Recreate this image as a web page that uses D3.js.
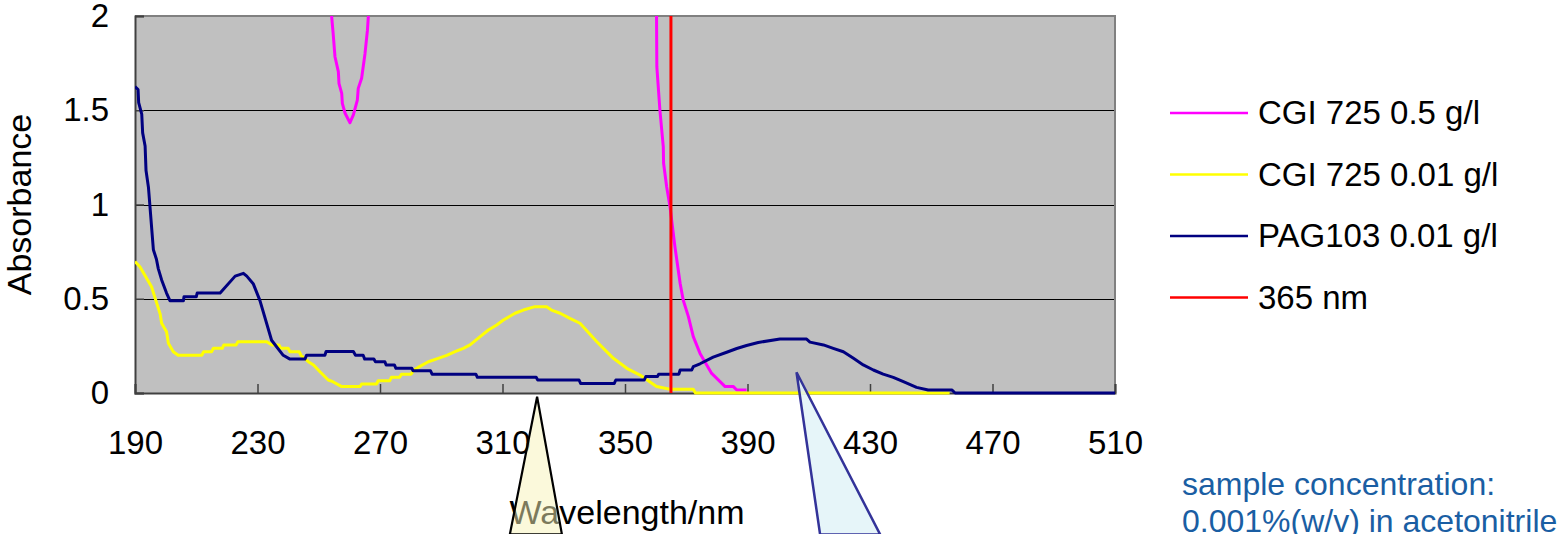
<!DOCTYPE html>
<html>
<head>
<meta charset="utf-8">
<script src="https://cdn.jsdelivr.net/npm/d3@7"></script>
<style>
  html, body { margin: 0; padding: 0; background: #fff; }
  svg { display: block; font-family: "Liberation Sans", Arial, sans-serif; }
</style>
</head>
<body>
<svg id="chart" width="1558" height="534"></svg>
<script>
// ---- Data ----
const xTicks = [190, 230, 270, 310, 350, 390, 430, 470, 510];
const yTicks = [0, 0.5, 1, 1.5, 2];
const xTitle = "Wavelength/nm";
const yTitle = "Absorbance";
const seriesNames = ["CGI 725 0.5 g/l", "CGI 725 0.01 g/l", "PAG103 0.01 g/l", "365 nm"];
const seriesColors = ["#ff00ff", "#ffff00", "#000080", "#ff0000"];
const markerWavelength = 365;
const note = ["sample concentration:", "0.001%(w/v) in acetonitrile"];

// CGI 725 0.5 g/l (goes off scale above 2 between ~266 and ~360 nm)
const cgiHighWl = [252, 254.2, 254.7, 255.3, 256.4, 256.6, 257.5, 257.7, 258.6, 260.2, 261.3, 262.6, 262.9, 264.0, 265.1, 265.9, 266.2, 267.5,
                   310,
                   359, 360.3, 360.4, 361.4, 362.5, 362.6, 363.6, 364.7, 366.3, 368.0, 369.0, 370.7, 372.3, 374.5, 378.3, 382.7, 385.4, 386.5, 389.7];
const cgiHighAbs = [2.4, 2.0, 1.908, 1.784, 1.705, 1.643, 1.59, 1.537, 1.484, 1.434, 1.475, 1.554, 1.616, 1.67, 1.80, 1.925, 2.0, 2.4,
                    null,
                    2.4, 2.0, 1.73, 1.50, 1.307, 1.219, 1.094, 0.988, 0.776, 0.582, 0.493, 0.405, 0.299, 0.21, 0.104, 0.034, 0.034, 0.016, 0.016];

// CGI 725 0.01 g/l
const cgiLowWl = [190, 191.6, 195.4, 198.2, 198.7, 200.3, 200.9, 202.5, 204.1, 211.8, 212.4, 215.0, 215.6, 218.5, 219.0, 223.0, 223.6, 233.0,
                  234.7, 237.0, 237.6, 240.0, 240.6, 243.6, 244.2, 246.6, 248.3, 250.4, 253.1, 254.6, 257.5, 263.5, 264.0, 268.9, 269.4,
                  273.2, 273.7, 276.4, 277.0, 280.2, 280.8, 282.9, 285.8, 289.0, 291.8, 294.5, 297.2, 299.4, 302.7, 305.4, 308.1, 310.3,
                  314.1, 316.8, 320.6, 324.4, 326.0, 328.8, 332.0, 335.3, 340.8, 346.2, 350.6, 354.9, 360.3, 364.7, 372.3, 373.0, 456.0];
const cgiLowAbs = [0.697, 0.67, 0.564, 0.42, 0.37, 0.325, 0.264, 0.219, 0.20, 0.20, 0.219, 0.219, 0.237, 0.237, 0.255, 0.255, 0.272, 0.272,
                   0.255, 0.255, 0.237, 0.237, 0.219, 0.219, 0.20, 0.166, 0.149, 0.113, 0.069, 0.06, 0.034, 0.034, 0.048, 0.048, 0.065,
                   0.065, 0.083, 0.083, 0.10, 0.10, 0.118, 0.14, 0.166, 0.184, 0.20, 0.219, 0.237, 0.255, 0.299, 0.334, 0.361, 0.387,
                   0.423, 0.44, 0.458, 0.458, 0.44, 0.423, 0.396, 0.37, 0.272, 0.184, 0.131, 0.095, 0.034, 0.02, 0.02, 0.0, 0.0];

// PAG103 0.01 g/l
const pagWl = [190, 191.0, 191.2, 192.2, 192.5, 193.3, 193.6, 194.4, 196.0, 197.0, 197.6, 198.7, 200.3, 201.4, 205.8, 206.0, 210.0, 210.3,
               217.8, 222.7, 225.4, 226.5, 228.6, 230.8, 234.6, 238.4, 240.6, 245.5, 246.0, 252.0, 252.4, 261.3, 262.0, 264.5, 265.0,
               268.0, 268.5, 271.6, 272.0, 274.7, 275.2, 280.4, 280.8, 286.5, 287.0, 301.3, 301.8, 321.0, 321.5, 335.0, 335.5, 346.5,
               347.0, 356.3, 356.8, 360.6, 361.0, 367.6, 368.0, 371.8, 372.3, 374.5, 378.8, 383.2, 386.5, 389.7, 393.5, 400.6, 409.3,
               410.4, 414.8, 418.0, 421.3, 424.6, 427.8, 431.1, 434.3, 437.6, 440.9, 445.2, 449.0, 456.7, 457.8, 510];
const pagAbs = [1.625, 1.61, 1.54, 1.48, 1.38, 1.31, 1.18, 1.09, 0.76, 0.71, 0.66, 0.60, 0.53, 0.49, 0.49, 0.51, 0.51, 0.53,
                0.53, 0.62, 0.635, 0.62, 0.58, 0.49, 0.28, 0.20, 0.18, 0.18, 0.20, 0.20, 0.22, 0.22, 0.20, 0.20, 0.18,
                0.18, 0.166, 0.166, 0.149, 0.149, 0.131, 0.131, 0.118, 0.118, 0.10, 0.10, 0.083, 0.083, 0.069, 0.069, 0.051, 0.051,
                0.069, 0.069, 0.087, 0.087, 0.10, 0.10, 0.122, 0.122, 0.14, 0.155, 0.19, 0.216, 0.236, 0.252, 0.268, 0.286, 0.286,
                0.27, 0.255, 0.237, 0.219, 0.184, 0.149, 0.122, 0.10, 0.083, 0.06, 0.03, 0.016, 0.016, 0.0, 0.0];

// Callout triangles (tip and base corners in data units)
const calloutYellowWl = [321.3, 312.4, 329.4];
const calloutYellowAbs = [-0.02, -0.75, -0.75];
const calloutBlueWl = [406.0, 413.7, 433.3];
const calloutBlueAbs = [0.11, -0.75, -0.75];

// ---- Layout ----
const svg = d3.select("#chart");
const plot = { left: 135, right: 1115, top: 16, bottom: 393 };
const x = d3.scaleLinear().domain([190, 510]).range([plot.left, plot.right]);
const y = d3.scaleLinear().domain([0, 2]).range([plot.bottom, plot.top]);

const zip = (w, a) => w.map((v, i) => ({ w: v, a: a[i] }));

// background
svg.append("rect")
  .attr("x", plot.left).attr("y", plot.top)
  .attr("width", plot.right - plot.left).attr("height", plot.bottom - plot.top)
  .attr("fill", "#c0c0c0");

// gridlines
svg.append("g").selectAll("line").data(yTicks.filter(t => t > 0 && t < 2)).join("line")
  .attr("x1", plot.left).attr("x2", plot.right)
  .attr("y1", d => Math.round(y(d)) + 0.5).attr("y2", d => Math.round(y(d)) + 0.5)
  .attr("stroke", "#000").attr("stroke-width", 1);

// border (top/right gray)
svg.append("path")
  .attr("d", `M${plot.left},${plot.top}H${plot.right}V${plot.bottom}`)
  .attr("fill", "none").attr("stroke", "#808080").attr("stroke-width", 2);

// axes
const xAxis = d3.axisBottom(x).tickValues(xTicks).tickSize(-9).tickPadding(38).tickFormat(d3.format("d"));
const gx = svg.append("g").attr("transform", `translate(0,${plot.bottom})`).call(xAxis);
gx.select(".domain").attr("stroke", "#404040").attr("stroke-width", 2);
gx.selectAll(".tick line").attr("stroke", "#404040").attr("stroke-width", 1.5);
gx.selectAll(".tick text").attr("font-size", 33).attr("fill", "#000")
  .attr("font-family", "'Liberation Sans', Arial, sans-serif").attr("dy", "0.71em");

const yAxis = d3.axisLeft(y).tickValues(yTicks).tickSize(-9).tickPadding(26).tickFormat(d => String(d));
const gy = svg.append("g").attr("transform", `translate(${plot.left},0)`).call(yAxis);
gy.select(".domain").attr("stroke", "#404040").attr("stroke-width", 2);
gy.selectAll(".tick line").attr("stroke", "#404040").attr("stroke-width", 1.5);
gy.selectAll(".tick text").attr("font-size", 33).attr("fill", "#000")
  .attr("font-family", "'Liberation Sans', Arial, sans-serif");

// clip for series
svg.append("clipPath").attr("id", "plotclip").append("rect")
  .attr("x", plot.left).attr("y", plot.top)
  .attr("width", plot.right - plot.left).attr("height", plot.bottom - plot.top + 2);

const line = d3.line().defined(d => d.a !== null).x(d => x(d.w)).y(d => y(d.a));
const gSeries = svg.append("g").attr("clip-path", "url(#plotclip)");
const series = [zip(cgiHighWl, cgiHighAbs), zip(cgiLowWl, cgiLowAbs), zip(pagWl, pagAbs)];
series.forEach((s, i) => {
  gSeries.append("path").datum(s).attr("d", line)
    .attr("fill", "none").attr("stroke", seriesColors[i]).attr("stroke-width", 3)
    .attr("stroke-linejoin", "round");
});
// 365 nm marker
gSeries.append("line")
  .attr("x1", x(markerWavelength)).attr("x2", x(markerWavelength))
  .attr("y1", y(0)).attr("y2", y(2))
  .attr("stroke", seriesColors[3]).attr("stroke-width", 3);

// axis titles
svg.append("text").text(xTitle)
  .attr("x", (plot.left + plot.right) / 2 + 2).attr("y", 524)
  .attr("text-anchor", "middle").attr("font-size", 34).attr("fill", "#000");
svg.append("text").text(yTitle)
  .attr("transform", `translate(31,${(plot.top + plot.bottom) / 2}) rotate(-90)`)
  .attr("text-anchor", "middle").attr("font-size", 34).attr("fill", "#000");

// legend
const lg = svg.append("g");
seriesNames.forEach((name, i) => {
  const ly = 113 + i * 61.5;
  lg.append("line").attr("x1", 1170).attr("x2", 1248).attr("y1", ly).attr("y2", ly)
    .attr("stroke", seriesColors[i]).attr("stroke-width", 2.5);
  lg.append("text").text(name).attr("x", 1258).attr("y", ly).attr("dy", "0.34em")
    .attr("font-size", 33).attr("fill", "#000");
});

// note
note.forEach((t, i) => {
  svg.append("text").text(t).attr("x", 1182).attr("y", 495 + i * 36.5)
    .attr("font-size", 32).attr("fill", "#1a5ea3");
});

// callouts
const tri = (w, a) => "M" + w.map((v, i) => `${x(v)},${y(a[i])}`).join("L") + "Z";
svg.append("path").attr("d", tri(calloutYellowWl, calloutYellowAbs))
  .attr("fill", "#f8f3b8").attr("fill-opacity", 0.5)
  .attr("stroke", "#000").attr("stroke-width", 2.2).attr("stroke-linejoin", "miter");
svg.append("path").attr("d", tri(calloutBlueWl, calloutBlueAbs))
  .attr("fill", "#e2f3f8").attr("fill-opacity", 0.85)
  .attr("stroke", "#333399").attr("stroke-width", 2.5).attr("stroke-linejoin", "miter");
</script>
</body>
</html>
